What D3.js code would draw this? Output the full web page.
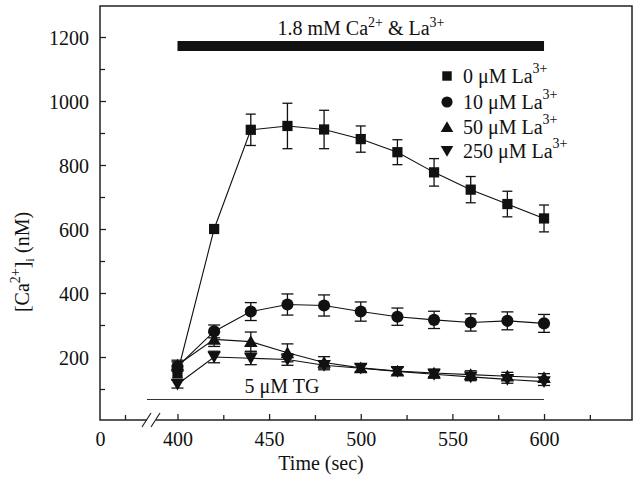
<!DOCTYPE html>
<html><head><meta charset="utf-8">
<script src="https://cdn.jsdelivr.net/npm/d3@7"></script>
<style>body{margin:0;background:#fff}svg{display:block}text{font-family:"Liberation Serif","Times New Roman",serif;fill:#111}</style>
</head><body>
<script>
// ---- data ----
const times = [400, 420, 440, 460, 480, 500, 520, 540, 560, 580, 600];
const seriesNames = ["0 \u03BCM La", "10 \u03BCM La", "50 \u03BCM La", "250 \u03BCM La"];
const la0   = [150, 600, 910, 922, 911, 881, 840, 777, 723, 678, 633];
const la0Err= [15,   0,  49,  71,  60,  41,  39,  43,  41,  40,  42];
const la10  = [170, 280, 342, 364, 361, 342, 326, 316, 308, 313, 305];
const la10Err=[15,  20,  28,  33,  33,  30,  27,  27,  27,  28,  28];
const la50  = [175, 255, 248, 213, 183, 166, 156, 150, 145, 140, 136];
const la50Err=[15,  22,  30,  28,  18,  12,  12,  12,  12,  12,  12];
const la250 = [115, 200, 196, 192, 174, 165, 155, 146, 138, 130, 123];
const la250Err=[12, 18,  20,  18,  14,  12,  12,  12,  12,  12,  12];
const yMajorTicks = [200, 400, 600, 800, 1000, 1200];
const yMinorTicks = [100, 300, 500, 700, 900, 1100];
const xMajorTicks = [400, 450, 500, 550, 600];
const xMinorTicks = [425, 475, 525, 575, 625];
const preBreakMajor = [0];
const preBreakMinor = [25];
const calciumBar = [400, 600];
const tgBar = [375, 600];

const W = 640, H = 481;
const svg = d3.select("body").append("svg").attr("width", W).attr("height", H);

const L = 100, R = 632, T = 6, B = 420;
const x = d3.scaleLinear().domain([358, 648]).range([L + 0.5, R]);
const xPre = d3.scaleLinear().domain([0, 50]).range([L, 150]);
const y = d3.scaleLinear().domain([0, 1300]).range([421, 5]);

// frame
svg.append("rect").attr("x", L).attr("y", T).attr("width", R - L).attr("height", B - T)
  .attr("fill", "none").attr("stroke", "#222").attr("stroke-width", 1.5);

function styleAxis(g) {
  g.select(".domain").remove();
  g.selectAll("line").attr("stroke", "#222").attr("stroke-width", 1.3);
  g.selectAll("text").style("font-family", '"Liberation Serif", serif').style("font-size", "20px").attr("fill", "#111");
}
// y axis
svg.append("g").attr("transform", `translate(${L},0)`)
  .call(d3.axisLeft(y).tickValues(yMajorTicks).tickSizeInner(-6).tickSizeOuter(0).tickPadding(11).tickFormat(d3.format("d")))
  .call(styleAxis).selectAll("text").attr("dy", "0.35em");
svg.append("g").attr("transform", `translate(${L},0)`)
  .call(d3.axisLeft(y).tickValues(yMinorTicks).tickSizeInner(-5).tickSizeOuter(0).tickFormat(""))
  .call(styleAxis);
// x axis
svg.append("g").attr("transform", `translate(0,${B})`)
  .call(d3.axisBottom(x).tickValues(xMajorTicks).tickSizeInner(-6).tickSizeOuter(0).tickPadding(12).tickFormat(d3.format("d")))
  .call(styleAxis);
svg.append("g").attr("transform", `translate(0,${B})`)
  .call(d3.axisBottom(x).tickValues(xMinorTicks).tickSizeInner(-5).tickSizeOuter(0).tickFormat(""))
  .call(styleAxis);
svg.append("g").attr("transform", `translate(0,${B})`)
  .call(d3.axisBottom(xPre).tickValues(preBreakMajor).tickSizeInner(0).tickSizeOuter(0).tickPadding(12).tickFormat(d3.format("d")))
  .call(styleAxis);
svg.append("g").attr("transform", `translate(0,${B})`)
  .call(d3.axisBottom(xPre).tickValues(preBreakMinor).tickSizeInner(-5).tickSizeOuter(0).tickFormat(""))
  .call(styleAxis);

// axis break slashes
const bx = xPre(50) - 3;
svg.append("rect").attr("x", bx).attr("y", B - 2).attr("width", 9).attr("height", 4).attr("fill", "#fff");
[bx - 1, bx + 8].forEach(cx => {
  svg.append("line").attr("x1", cx - 4).attr("y1", B + 7).attr("x2", cx + 5).attr("y2", B - 7)
    .attr("stroke", "#222").attr("stroke-width", 1.2);
});

// axis titles
svg.append("text").attr("x", 321).attr("y", 470).attr("text-anchor", "middle")
  .style("font-size", "20px").text("Time (sec)");
const yt = svg.append("text").attr("transform", "translate(29,262) rotate(-90)").attr("text-anchor", "middle")
  .style("font-size", "20px");
yt.append("tspan").text("[Ca");
yt.append("tspan").attr("dy", -9).style("font-size", "14px").text("2+");
yt.append("tspan").attr("dy", 9).text("]");
yt.append("tspan").attr("dy", 5).style("font-size", "13px").text("i");
yt.append("tspan").attr("dy", -5).text(" (nM)");

// top calcium bar
svg.append("rect").attr("x", x(calciumBar[0])).attr("y", 41).attr("width", x(calciumBar[1]) - x(calciumBar[0])).attr("height", 10).attr("fill", "#111");
const tt = svg.append("text").attr("x", 361).attr("y", 35).attr("text-anchor", "middle").style("font-size", "20px");
tt.append("tspan").text("1.8 mM Ca");
tt.append("tspan").attr("dy", -8).style("font-size", "14px").text("2+");
tt.append("tspan").attr("dy", 8).text(" & La");
tt.append("tspan").attr("dy", -8).style("font-size", "14px").text("3+");

// TG line
svg.append("line").attr("x1", 147).attr("x2", x(tgBar[1])).attr("y1", 399.5).attr("y2", 399.5)
  .attr("stroke", "#333").attr("stroke-width", 1.2);
svg.append("text").attr("x", 282).attr("y", 393).attr("text-anchor", "middle").style("font-size", "20px").text("5 \u03BCM TG");

// series
const series = [
  {vals: la0, err: la0Err, sym: d3.symbolSquare, size: 105, rot: 0, cap: 5},
  {vals: la10, err: la10Err, sym: d3.symbolCircle, size: 115, rot: 0, cap: 6},
  {vals: la50, err: la50Err, sym: d3.symbolTriangle, size: 80, rot: 0, cap: 6},
  {vals: la250, err: la250Err, sym: d3.symbolTriangle, size: 80, rot: 180, cap: 6}
];
const line = d3.line().x((d, i) => x(times[i])).y(d => y(d));
series.forEach(s => {
  svg.append("path").attr("d", line(s.vals)).attr("fill", "none").attr("stroke", "#111").attr("stroke-width", 1.1);
});
series.forEach(s => {
  const g = svg.append("g");
  s.vals.forEach((v, i) => {
    const e = s.err[i];
    if (e > 0) {
      const cx = x(times[i]);
      g.append("line").attr("x1", cx).attr("x2", cx).attr("y1", y(v + e)).attr("y2", y(v - e)).attr("stroke", "#111").attr("stroke-width", 1.3);
      [v + e, v - e].forEach(val => g.append("line").attr("x1", cx - s.cap).attr("x2", cx + s.cap)
        .attr("y1", y(val)).attr("y2", y(val)).attr("stroke", "#111").attr("stroke-width", 1.3));
    }
  });
  s.vals.forEach((v, i) => {
    const dy = s.rot ? -1.5 : (s.sym === d3.symbolTriangle ? 1.5 : 0);
    g.append("path").attr("d", d3.symbol(s.sym, s.size)())
      .attr("transform", `translate(${x(times[i])},${y(v) + dy}) rotate(${s.rot})`).attr("fill", "#111");
  });
});

// legend
const legY = [76, 102, 127, 151];
series.forEach((s, i) => {
  const dy = s.rot ? -1.5 : (s.sym === d3.symbolTriangle ? 1.5 : 0);
  svg.append("path").attr("d", d3.symbol(s.sym, s.size * 0.85)())
    .attr("transform", `translate(447,${legY[i] + dy}) rotate(${s.rot})`).attr("fill", "#111");
  const t = svg.append("text").attr("x", 463).attr("y", legY[i] + 7).style("font-size", "20px");
  t.append("tspan").text(seriesNames[i]);
  t.append("tspan").attr("dy", -10).style("font-size", "14px").text("3+");
});
</script>
</body></html>
